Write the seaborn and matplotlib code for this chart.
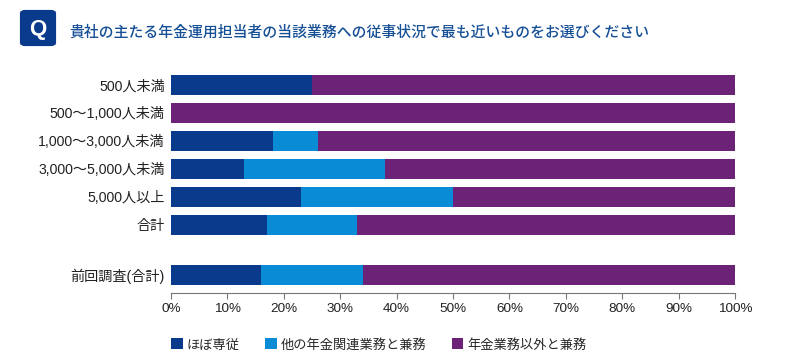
import pandas as pd
from matplotlib import pyplot as plt
from matplotlib.patches import FancyBboxPatch, Patch
import seaborn as sns

GROUPS = ["500人未満", "500〜1,000人未満", "1,000〜3,000人未満", "3,000〜5,000人未満", "5,000人以上", "合計", "前回調査(合計)"]
SENJU = [25, 0, 18, 13, 23, 17, 16]
KANREN = [0, 0, 8, 25, 27, 16, 18]
IGAI = [75, 100, 74, 62, 50, 67, 66]
SERIES_NAMES = ["ほぼ専従", "他の年金関連業務と兼務", "年金業務以外と兼務"]
TITLE = "貴社の主たる年金運用担当者の当該業務への従事状況で最も近いものをお選びください"

NAVY = "#0a3a8c"
BLUE = "#0a8bd6"
PURPLE = "#6c2277"
W, H = 787, 364

sns.set_theme(style="white")
plt.rcParams["font.family"] = ["Liberation Sans", "Noto Sans CJK JP", "DejaVu Sans"]

df = pd.DataFrame({"group": GROUPS, "s1": SENJU, "s2": KANREN, "s3": IGAI})
# last row sits a little further down than the regular spacing
df["pos"] = list(range(6)) + [6.786]
# seaborn has no stacked bars, so draw cumulative totals from longest to shortest
df["c1"] = df["s1"]
df["c2"] = df["s1"] + df["s2"]
df["c3"] = df["s1"] + df["s2"] + df["s3"]

fig = plt.figure(figsize=(W / 100, H / 100), dpi=100)
ax = fig.add_axes([171 / W, 1 - 293 / H, (735 - 171) / W, (293 - 65) / H])

for col, color in [("c3", PURPLE), ("c2", BLUE), ("c1", NAVY)]:
    sns.barplot(data=df, x=col, y="pos", orient="y", native_scale=True, color=color,
                saturation=1, width=0.714, errorbar=None, linewidth=0, ax=ax)

ax.set_xlim(0, 100)
ax.set_ylim(7.43, -0.714)
ax.set_xlabel("")
ax.set_ylabel("")
ax.set_xticks(range(0, 101, 10))
ax.set_xticklabels([f"{v}%" for v in range(0, 101, 10)], fontsize=9.7, color="#222222")
ax.set_yticks(df["pos"])
ax.set_yticklabels(GROUPS, fontsize=10.2, color="#222222")
ax.tick_params(axis="x", length=4.5, width=0.8, color="#777777", pad=3, bottom=True)
ax.tick_params(axis="y", length=0, pad=4.5)
sns.despine(ax=ax, left=True)
ax.spines["bottom"].set_color("#777777")
ax.spines["bottom"].set_linewidth(0.8)

# legend
handles = [Patch(color=c, label=n, linewidth=0) for c, n in zip([NAVY, BLUE, PURPLE], SERIES_NAMES)]
fig.legend(handles=handles, ncol=3, frameon=False, loc="center left",
           bbox_to_anchor=(171 / W, 1 - 345 / H), borderaxespad=0, borderpad=0,
           handlelength=0.9, handleheight=0.9, handletextpad=0.3, columnspacing=1.9,
           prop={"size": 9.5})

# Q badge and title
badge = FancyBboxPatch((22 / W, 1 - 44 / H), 32 / W, 32 / H, boxstyle="round,pad=0,rounding_size=0.004",
                       transform=fig.transFigure, facecolor=NAVY, edgecolor=NAVY, linewidth=3)
fig.add_artist(badge)
fig.text(38 / W, 1 - 30 / H, "Q", color="white", fontsize=16, fontweight="bold", ha="center", va="center")
fig.text(69 / W, 1 - 32 / H, TITLE, color="#154f96", fontsize=10.7, fontweight=500, ha="left", va="center")

fig.savefig("out.png", dpi=100)
